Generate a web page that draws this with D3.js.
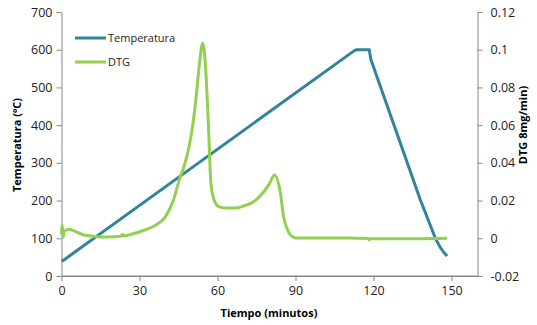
<!DOCTYPE html>
<html><head><meta charset="utf-8">
<script src="https://cdn.jsdelivr.net/npm/d3@7"></script>
<style>body{margin:0;background:#fff}svg{display:block}text{font-family:"Open Sans","Noto Sans",sans-serif}</style>
</head><body><svg id="c" width="537" height="325"></svg>
<script>
const xTicks=[0,30,60,90,120,150];
const tempTicks=[0,100,200,300,400,500,600,700];
const dtgTicks=[-0.02,0,0.02,0.04,0.06,0.08,0.1,0.12];
const dtgTickLabels=["-0.02","0","0.02","0.04","0.06","0.08","0.1","0.12"];
const tempTime=[0,0.8,112.5,113.5,118.4,118.6,119,138,143.8,145.5,147,148.3];
const tempValues=[39,42,597,600,600,590,574,202,100,78,63,53];
const dtgTime=[0,0.3,0.6,1,2.7,5,8,11.7,15,20,23,23.5,24,26,32,36,40,43,45.7,47,50.2,51.8,53.1,54.3,55.3,56.6,57.4,58.5,59.8,61,63.7,67,70,73.9,77.8,80,81.9,84.2,85.4,86.7,88,90,100,110,118,118.3,118.6,125,135,145,148.3];
const dtgValues=[0.002,0.007,0.0005,0.0035,0.0048,0.0038,0.002,0.0012,0.0007,0.0008,0.0012,0.0022,0.0013,0.0018,0.0044,0.0068,0.0115,0.02,0.0327,0.0375,0.0574,0.075,0.093,0.1034,0.093,0.057,0.0303,0.021,0.0175,0.0165,0.016,0.016,0.0171,0.0194,0.0247,0.029,0.0336,0.0239,0.0115,0.0053,0.0018,0.0002,0.0001,0.0001,-0.0001,-0.0009,-0.0002,-0.0002,-0.0002,-0.0001,0.0];

const svg=d3.select("#c");
const x=d3.scaleLinear().domain([0,160]).range([61.5,477.5]);
const yL=d3.scaleLinear().domain([0,700]).range([276,12]);
const yR=d3.scaleLinear().domain([-0.02,0.12]).range([276,12]);
const axisColor="#868686";

function style(g){g.selectAll(".domain").attr("stroke",axisColor);g.selectAll(".tick line").attr("stroke",axisColor);g.selectAll(".tick text").attr("fill","#222").style("font-size","12.5px");}
svg.append("g").attr("transform","translate(0,276)").call(d3.axisBottom(x).tickValues(xTicks).tickSize(5).tickSizeOuter(0).tickPadding(5)).call(style);
svg.append("g").attr("transform","translate(61.5,0)").call(d3.axisLeft(yL).tickValues(tempTicks).tickSize(5).tickSizeOuter(0).tickPadding(4)).call(style);
svg.append("g").attr("transform","translate(477.5,0)").call(d3.axisRight(yR).tickValues(dtgTicks).tickFormat((d,i)=>dtgTickLabels[i]).tickSize(5).tickSizeOuter(0).tickPadding(8)).call(style);
svg.append("line").attr("x1",61.5).attr("x2",477.5).attr("y1",276).attr("y2",276).attr("stroke",axisColor);

const tempData=tempTime.map((t,i)=>[t,tempValues[i]]);
const dtgData=dtgTime.map((t,i)=>[t,dtgValues[i]]);
svg.append("path").datum(tempData).attr("fill","none").attr("stroke","#31849B").attr("stroke-width",3).attr("stroke-linejoin","round")
 .attr("d",d3.line().x(d=>x(d[0])).y(d=>yL(d[1])));
svg.append("path").datum(dtgData).attr("fill","none").attr("stroke","#92D050").attr("stroke-width",3).attr("stroke-linejoin","round")
 .attr("d",d3.line().x(d=>x(d[0])).y(d=>yR(d[1])).curve(d3.curveMonotoneX));

const leg=[["Temperatura","#31849B",38],["DTG","#92D050",62]];
leg.forEach(([n,c,y])=>{
 svg.append("line").attr("x1",75).attr("x2",106).attr("y1",y).attr("y2",y).attr("stroke",c).attr("stroke-width",3);
 svg.append("text").attr("x",108).attr("y",y+4).text(n).style("font-size","11px").attr("fill","#222");
});
svg.append("text").attr("x",269).attr("y",317).attr("text-anchor","middle").text("Tiempo (minutos)").style("font-size","11px").style("font-weight","bold");
svg.append("text").attr("transform","translate(21,145) rotate(-90)").attr("text-anchor","middle").text("Temperatura (ºC)").style("font-size","11px").style("font-weight","bold");
svg.append("text").attr("transform","translate(527,125) rotate(-90)").attr("text-anchor","middle").text("DTG 8mg/min)").style("font-size","11px").style("font-weight","bold");
</script></body></html>
